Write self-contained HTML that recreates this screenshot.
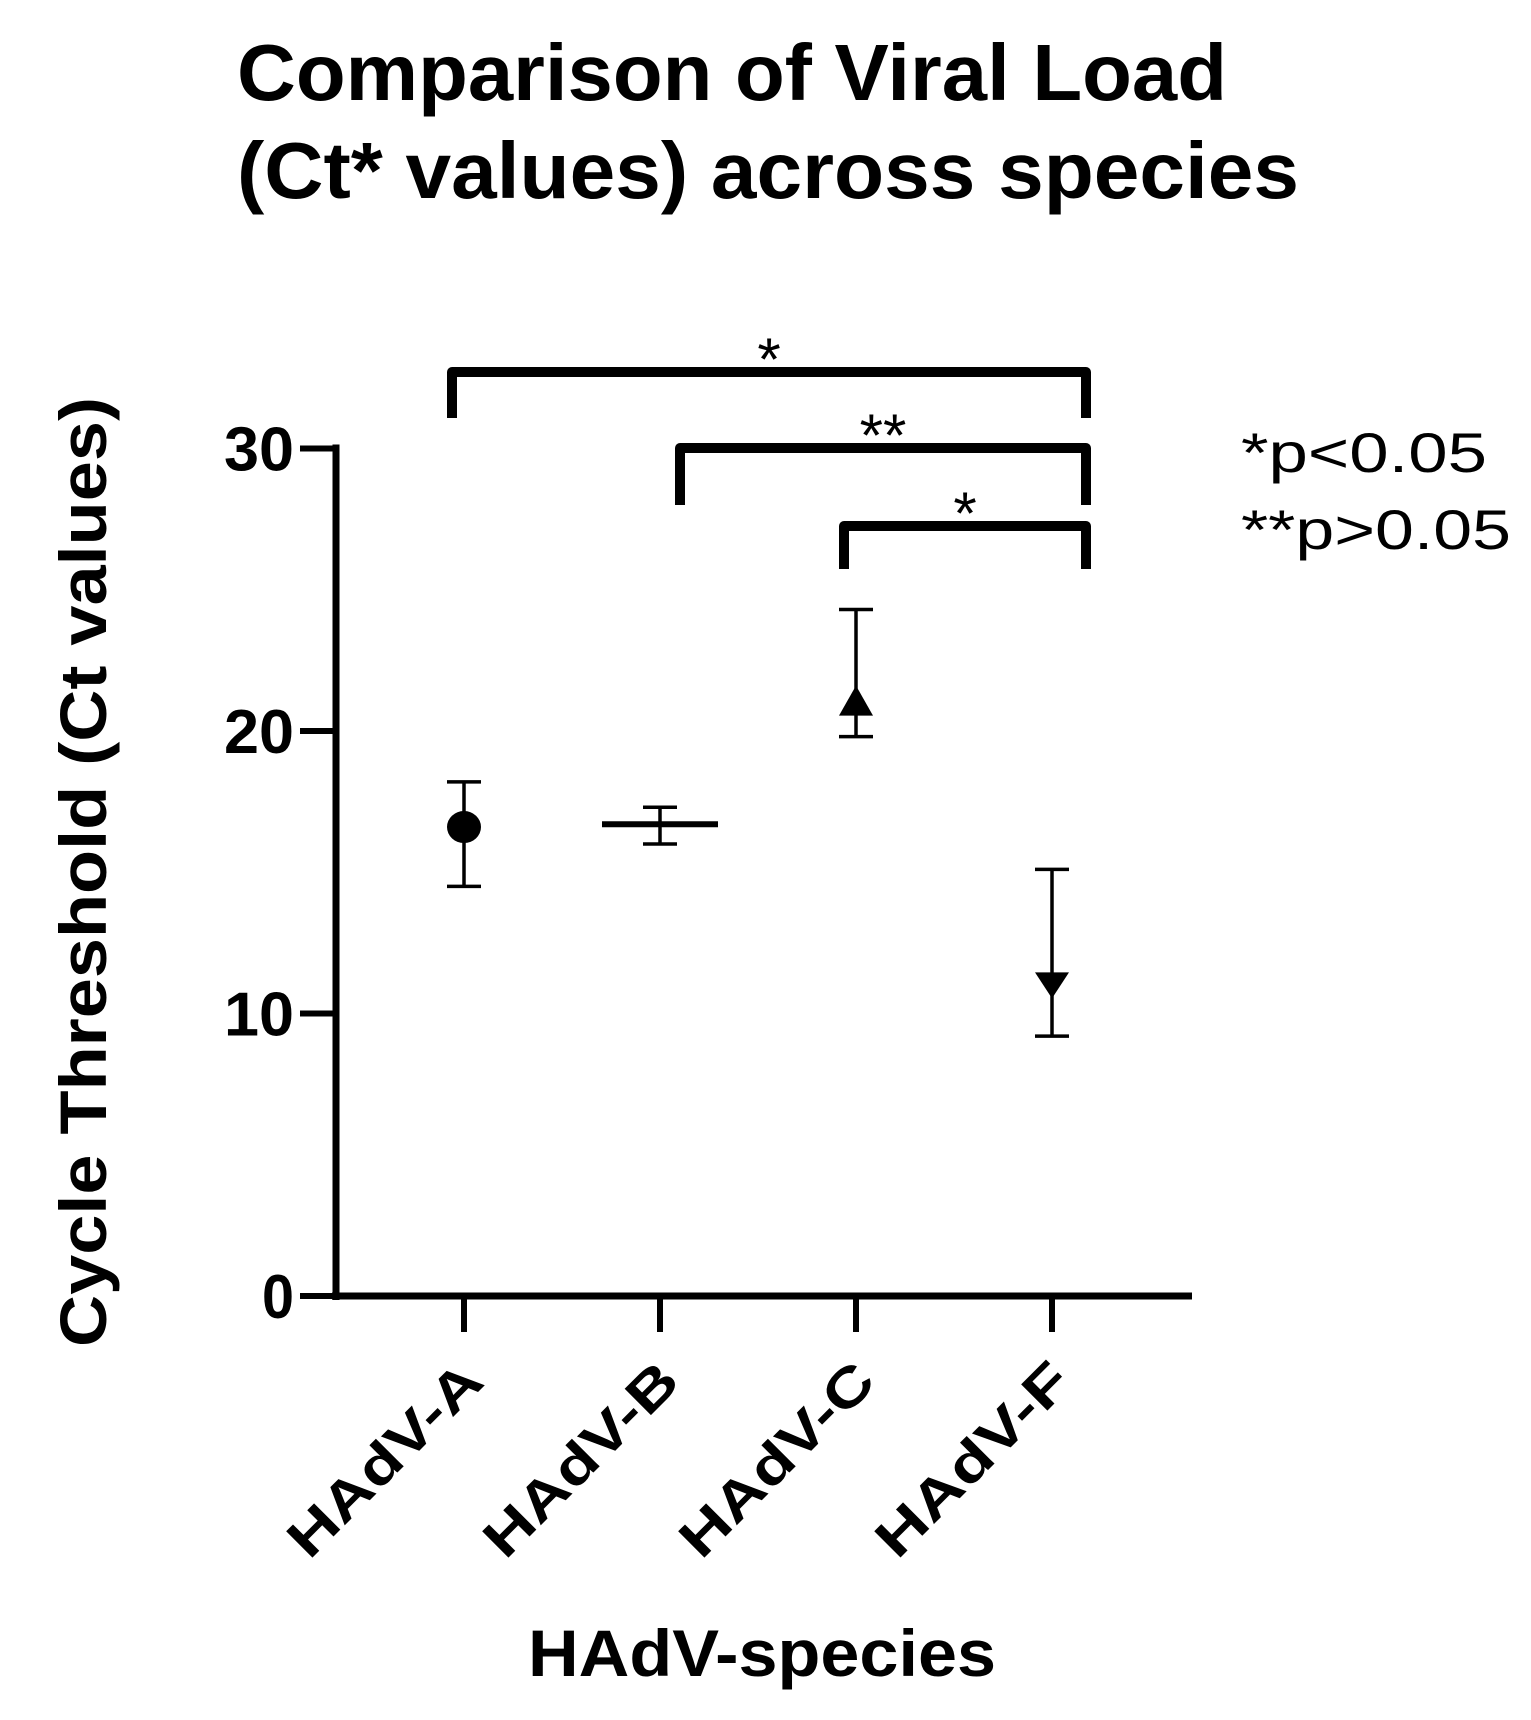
<!DOCTYPE html>
<html><head><meta charset="utf-8"><style>
html,body{margin:0;padding:0;background:#fff;}
svg{display:block;}
text{font-family:"Liberation Sans",Arial,sans-serif;fill:#000;}
</style></head><body>
<svg id="chart" width="1531" height="1720" viewBox="0 0 1531 1720">
<text x="237" y="100" font-size="80" font-weight="bold" textLength="990" lengthAdjust="spacingAndGlyphs">Comparison of Viral Load</text>
<text x="237" y="198" font-size="80" font-weight="bold" textLength="1062" lengthAdjust="spacingAndGlyphs">(Ct* values) across species</text>
<text transform="translate(106,872) rotate(-90)" text-anchor="middle" font-size="66" font-weight="bold" textLength="950" lengthAdjust="spacingAndGlyphs">Cycle Threshold  (Ct values)</text>
<text x="762" y="1676" text-anchor="middle" font-size="66" font-weight="bold" textLength="468" lengthAdjust="spacingAndGlyphs">HAdV-species</text>
<text x="1241" y="472" font-size="56" textLength="246" lengthAdjust="spacingAndGlyphs">*p&lt;0.05</text>
<text x="1241" y="549" font-size="56" textLength="270" lengthAdjust="spacingAndGlyphs">**p&gt;0.05</text>
<g id="plot"></g>
</svg>
<script>
const categories = ["HAdV-A","HAdV-B","HAdV-C","HAdV-F"];
const means = [16.6, 16.7, 20.9, 11.1];
const lower = [14.5, 16.0, 19.8, 9.2];
const upper = [18.2, 17.3, 24.3, 15.1];
const markers = ["circle","line","triangle-up","triangle-down"];
const yTicks = [0, 10, 20, 30];
const brackets = [
  {from: 0, to: 3, label: "*", level: 0},
  {from: 1, to: 3, label: "**", level: 1},
  {from: 2, to: 3, label: "*", level: 2}
];

const NS = "http://www.w3.org/2000/svg";
const g = document.getElementById("plot");
const X0 = 336, Y0 = 1296, PX10 = 282.5;
function y(v){ return Y0 - v * PX10 / 10; }
function x(i){ return 464 + i * 196; }
function el(tag, attrs, parent){
  const e = document.createElementNS(NS, tag);
  for (const k in attrs) e.setAttribute(k, attrs[k]);
  (parent || g).appendChild(e);
  return e;
}
let yAxis = el("line",{x1:X0,y1:y(30)-4,x2:X0,y2:Y0+4,stroke:"#000","stroke-width":7});


let xAxis = el("line",{x1:X0-4,y1:Y0,x2:1192,y2:Y0,stroke:"#000","stroke-width":7});


yTicks.forEach(t => {
  const tk = el("line",{x1:300,y1:y(t),x2:X0,y2:y(t),stroke:"#000","stroke-width":6});
  
  
  const lb = el("text",{x:294,y:y(t)+22,"text-anchor":"end","font-size":62,"font-weight":"bold",textLength:(t===0?32:70),lengthAdjust:"spacingAndGlyphs"});
  lb.textContent = String(t);
  
  
});
categories.forEach((c,i) => {
  const tk = el("line",{x1:x(i),y1:Y0,x2:x(i),y2:1332,stroke:"#000","stroke-width":6});
  
  
  const lb = el("text",{transform:`translate(${x(i)+22},1384) rotate(-45)`,"text-anchor":"end","font-size":54,"font-weight":"bold",textLength:250,lengthAdjust:"spacingAndGlyphs"});
  lb.textContent = c;
  
  
});
categories.forEach((c,i) => {
  const cx = x(i);
  const grp = el("g",{});
  
  
  el("line",{x1:cx,y1:y(upper[i]),x2:cx,y2:y(lower[i]),stroke:"#000","stroke-width":3.5},grp);
  el("line",{x1:cx-17,y1:y(upper[i]),x2:cx+17,y2:y(upper[i]),stroke:"#000","stroke-width":3.5},grp);
  el("line",{x1:cx-17,y1:y(lower[i]),x2:cx+17,y2:y(lower[i]),stroke:"#000","stroke-width":3.5},grp);
  const my = y(means[i]);
  const m = markers[i];
  if (m === "circle") el("ellipse",{cx:cx,cy:my,rx:17,ry:16,fill:"#000"},grp);
  else if (m === "line") el("line",{x1:cx-58,y1:my,x2:cx+58,y2:my,stroke:"#000","stroke-width":6},grp);
  else if (m === "triangle-up") el("polygon",{points:`${cx},${my-20} ${cx-17},${my+10} ${cx+17},${my+10}`,fill:"#000"},grp);
  else el("polygon",{points:`${cx},${my+16} ${cx-17},${my-10} ${cx+17},${my-10}`,fill:"#000"},grp);
});
const levelY = [372, 448, 526], legY = [418, 505, 569];
brackets.forEach(b => {
  const x1 = x(b.from) - 12 + (b.from===1?32:0), x2 = 1086;
  const by = levelY[b.level], ly = legY[b.level];
  const p = el("path",{d:`M${x1},${ly} L${x1},${by} L${x2},${by} L${x2},${ly}`,fill:"none",stroke:"#000","stroke-width":10,"stroke-linejoin":"round"});
  
  
  const t = el("text",{x:(x1+x2)/2,y:by+8,"text-anchor":"middle","font-size":60});
  t.textContent = b.label;
  
  
});
</script>
</body></html>
